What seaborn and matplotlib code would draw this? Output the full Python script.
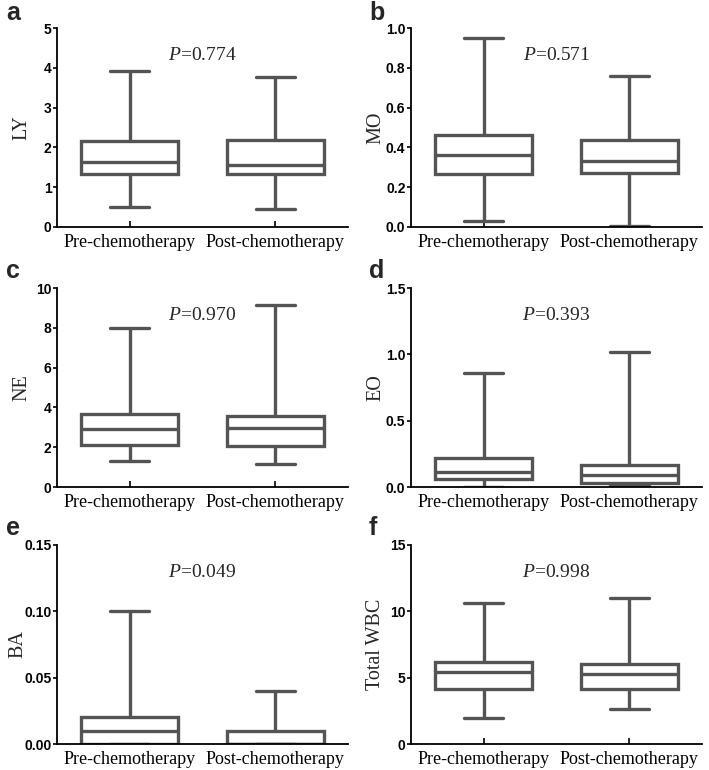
import pandas as pd
import seaborn as sns
import matplotlib.pyplot as plt

# five-number summaries: min, Q1, median, Q3, max
groups = ["Pre-chemotherapy", "Post-chemotherapy"]
panel_letters = ["a", "b", "c", "d", "e", "f"]
ylabels = ["LY", "MO", "NE", "EO", "BA", "Total WBC"]
pvalues = ["0.774", "0.571", "0.970", "0.393", "0.049", "0.998"]

ly_pre = [0.49, 1.34, 1.64, 2.16, 3.91]
ly_post = [0.45, 1.33, 1.56, 2.18, 3.76]
mo_pre = [0.03, 0.267, 0.36, 0.46, 0.95]
mo_post = [0.007, 0.272, 0.33, 0.435, 0.758]
ne_pre = [1.30, 2.12, 2.89, 3.66, 7.99]
ne_post = [1.15, 2.06, 2.96, 3.56, 9.15]
eo_pre = [0.0, 0.063, 0.11, 0.219, 0.86]
eo_post = [0.015, 0.033, 0.088, 0.163, 1.015]
ba_pre = [0.0, 0.0, 0.01, 0.02, 0.10]
ba_post = [0.0, 0.0, 0.0, 0.01, 0.04]
wbc_pre = [1.94, 4.12, 5.40, 6.18, 10.6]
wbc_post = [2.62, 4.18, 5.30, 6.06, 10.98]

series = [(ly_pre, ly_post), (mo_pre, mo_post), (ne_pre, ne_post),
          (eo_pre, eo_post), (ba_pre, ba_post), (wbc_pre, wbc_post)]

ylims = [5, 1.0, 10, 1.5, 0.15, 15]
yticks = [[0, 1, 2, 3, 4, 5],
          [0.0, 0.2, 0.4, 0.6, 0.8, 1.0],
          [0, 2, 4, 6, 8, 10],
          [0.0, 0.5, 1.0, 1.5],
          [0.00, 0.05, 0.10, 0.15],
          [0, 5, 10, 15]]
ytick_fmt = ["{:.0f}", "{:.1f}", "{:.0f}", "{:.1f}", "{:.2f}", "{:.0f}"]

sns.set_style("ticks")
plt.rcParams["font.family"] = ["Liberation Serif", "DejaVu Serif"]
plt.rcParams["mathtext.fontset"] = "custom"
plt.rcParams["mathtext.rm"] = "Liberation Serif"
plt.rcParams["mathtext.it"] = "Liberation Serif:italic"

W, H = 709, 770
fig = plt.figure(figsize=(W / 100, H / 100), dpi=100)

col_left = [57, 411]
row_top = [28, 288, 545]
ax_w, ax_h = 291, 199
box_color = "#545454"

for i in range(6):
    r, c = divmod(i, 2)
    ax = fig.add_axes([col_left[c] / W, 1 - (row_top[r] + ax_h) / H, ax_w / W, ax_h / H])
    pre, post = series[i]
    df = pd.DataFrame({
        "group": [groups[0]] * len(pre) + [groups[1]] * len(post),
        "value": pre + post,
    })
    sns.boxplot(data=df, x="group", y="value", order=groups, ax=ax,
                whis=(0, 100), width=0.67, color="white", linecolor=box_color,
                linewidth=2.4, fliersize=0, capwidths=0.265)
    ax.set_xlim(-0.5, 1.5)
    ax.set_ylim(0, ylims[i])
    ax.set_yticks(yticks[i])
    ax.set_yticklabels([ytick_fmt[i].format(v) for v in yticks[i]],
                       fontfamily="Liberation Sans", fontweight="bold", fontsize=10)
    ax.set_xticks([0, 1])
    ax.set_xticklabels(groups, fontsize=13)
    ax.tick_params(axis="x", direction="in", length=4, width=1.2, pad=5, colors="black")
    ax.tick_params(axis="y", direction="out", length=3, width=1.2, pad=1, colors="black")
    ax.set_xlabel("")
    ax.set_ylabel(ylabels[i], fontsize=14.5)
    ax.yaxis.set_label_coords(-0.10 if i == 4 else -0.088, 0.5)
    sns.despine(ax=ax)
    for s in ["left", "bottom"]:
        ax.spines[s].set_linewidth(1.3)
        ax.spines[s].set_color("black")
    ax.text(0.5, 0.86, r"$P$=" + pvalues[i], transform=ax.transAxes,
            ha="center", va="center", fontsize=14)
    fig.text([6, 369][c] / W, 1 - [20, 278, 535][r] / H, panel_letters[i],
             fontfamily="Liberation Sans", fontweight="bold", fontsize=18,
             ha="left", va="baseline")

fig.savefig("out.png", dpi=100)
